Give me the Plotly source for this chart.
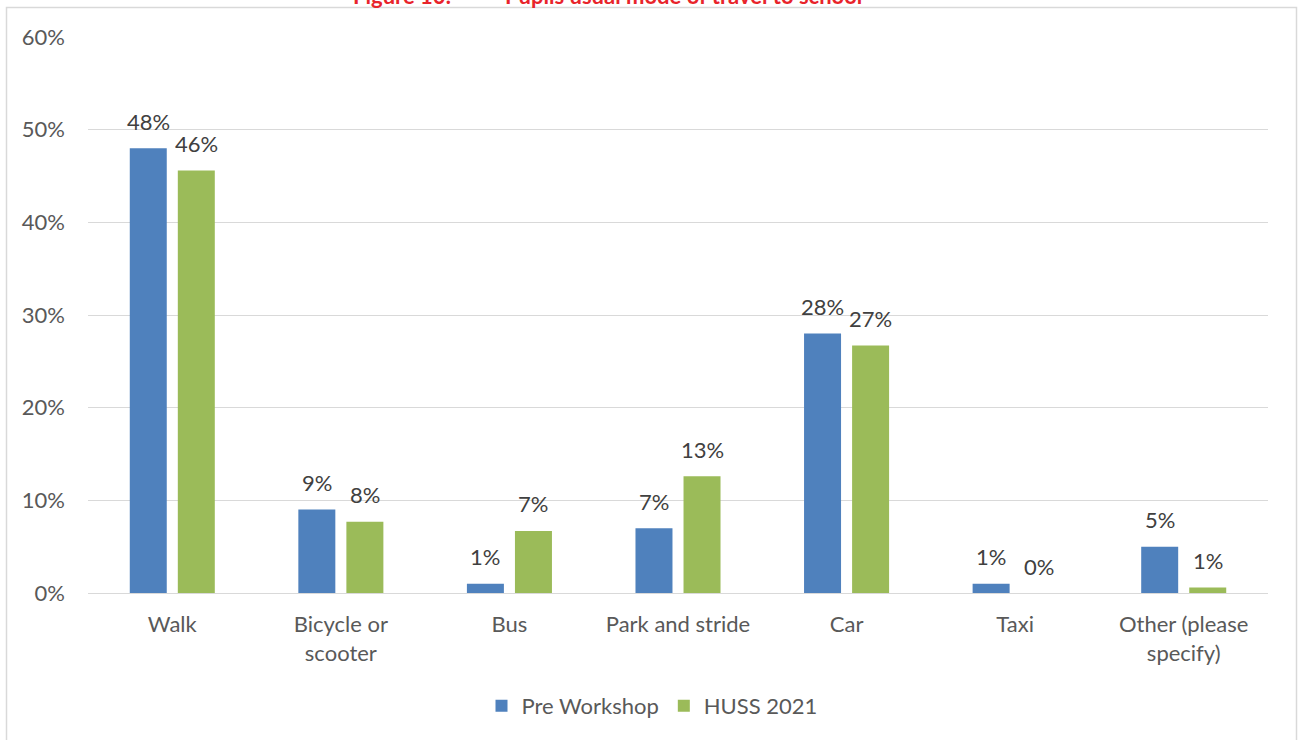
import plotly.graph_objects as go

categories = ["Walk", "Bicycle or<br>scooter", "Bus", "Park and stride", "Car", "Taxi",
              "Other (please<br>specify)"]
pre_workshop = [0.48, 0.09, 0.01, 0.07, 0.28, 0.01, 0.05]
huss_2021 = [0.456, 0.077, 0.067, 0.126, 0.267, 0.0, 0.006]
y_ticks = [0, 0.1, 0.2, 0.3, 0.4, 0.5, 0.6]
y_tick_labels = ["0%", "10%", "20%", "30%", "40%", "50%", "60%"]

W, H = 1303, 740
ML, MR, MT, MB = 88, 35, 37, 147
FONT = "Lato, Carlito, 'Liberation Sans', sans-serif"
TEXT = "#595959"
LABEL = "#404040"
FS = 22

series = [
    ("Pre Workshop", pre_workshop, "#4f81bd"),
    ("HUSS 2021", huss_2021, "#9bbb59"),
]

fig = go.Figure()
for name, vals, color in series:
    fig.add_trace(go.Bar(name=name, x=categories, y=vals,
                         marker=dict(color=color, line=dict(width=0))))

pw = W - ML - MR
ph = H - MT - MB

def px_x(p):
    return (p - ML) / pw

def px_y(p):
    return (H - MB - p) / ph

BARGAP, GROUPGAP = 0.43, 0.23
slot = pw / len(categories) * (1 - BARGAP) / len(series)

# value labels above each bar, shifted sideways to their bar's slot
annotations = []
for i, (name, vals, color) in enumerate(series):
    shift = (i - (len(series) - 1) / 2) * slot
    for cat, v in zip(categories, vals):
        annotations.append(dict(
            x=cat, y=v, xref="x", yref="y", text=f"{v:.0%}", showarrow=False,
            xanchor="center", yanchor="middle", xshift=shift, yshift=27,
            font=dict(size=FS, color=LABEL, family=FONT)))

title_font = dict(size=22, color="#e8242b", family=FONT)
annotations += [
    dict(text="<b>Figure 10:</b>", xref="paper", yref="paper",
         x=px_x(352), y=px_y(-5), xanchor="left", yanchor="middle",
         showarrow=False, borderpad=0, font=title_font),
    dict(text="<b>Pupils usual mode of travel to school</b>", xref="paper", yref="paper",
         x=px_x(504), y=px_y(-5), xanchor="left", yanchor="middle",
         showarrow=False, borderpad=0, font=title_font),
]

fig.update_layout(
    width=W, height=H,
    margin=dict(l=ML, r=MR, t=MT, b=MB),
    paper_bgcolor="white", plot_bgcolor="white",
    font=dict(family=FONT, size=FS, color=TEXT),
    barmode="group", bargap=BARGAP, bargroupgap=GROUPGAP,
    showlegend=True,
    legend=dict(orientation="h", x=px_x(652), xanchor="center", xref="paper",
                y=px_y(706), yanchor="middle",
                font=dict(size=FS, color=TEXT, family=FONT),
                itemwidth=30, tracegroupgap=0),
    xaxis=dict(showgrid=False, showline=True, linecolor="#d9d9d9", linewidth=1,
               ticks="", tickfont=dict(size=FS, color=TEXT), ticklabelstandoff=12),
    yaxis=dict(range=[0, 0.6], tickvals=y_ticks, ticktext=y_tick_labels,
               showgrid=True, gridcolor="#d9d9d9", gridwidth=1, zeroline=False,
               showline=False, ticks="", tickfont=dict(size=FS, color=TEXT),
               ticklabelstandoff=22),
    shapes=[
        dict(type="rect", xref="paper", yref="paper",
             x0=px_x(6.5), x1=px_x(1296.5), y0=px_y(7.5), y1=px_y(760),
             line=dict(color="#d9d9d9", width=1.5), fillcolor="rgba(0,0,0,0)",
             layer="below"),
    ],
    annotations=annotations,
)

fig.write_html("out.html")
